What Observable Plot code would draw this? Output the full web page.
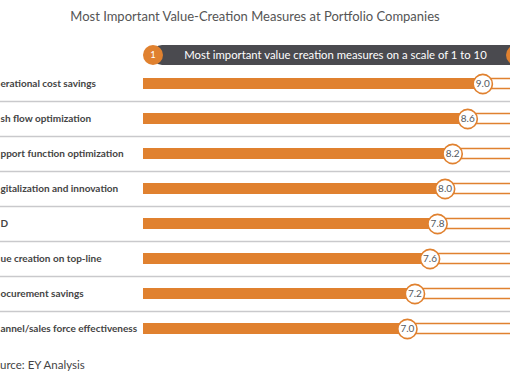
<!DOCTYPE html>
<html>
<head>
<meta charset="utf-8">
<script src="https://cdn.jsdelivr.net/npm/d3@7"></script>
<script src="https://cdn.jsdelivr.net/npm/@observablehq/plot@0.6"></script>
<style>
  html, body { margin: 0; padding: 0; background: #fff; width: 510px; height: 382px; overflow: hidden; }
  #wrap { position: relative; width: 510px; height: 382px; overflow: hidden; font-family: Lato, "Open Sans", sans-serif; }
  #title { height: 38px; line-height: 32px; text-align: center; font-size: 13px; color: #555; }
  #header { position: absolute; left: 143px; top: 45px; width: 380px; height: 20px; }
  #header .bar { position: absolute; left: 9px; right: 0; top: 0; height: 20px; background: #4a4a4f; border-radius: 10px; }
  #header .c { position: absolute; top: 0; width: 20px; height: 20px; border-radius: 10px; background: #e0812f; color: #fff; font-size: 9.5px; line-height: 20px; text-align: center; }
  #header .txt { position: absolute; left: 20px; width: 345px; top: 0; height: 20px; line-height: 20px; text-align: center; color: #fff; font-size: 11.3px; }
  #source { position: absolute; left: 0; top: 358px; font-size: 11.5px; color: #444; white-space: nowrap; }
  #chart svg { display: block; }
</style>
</head>
<body>
<div id="wrap">
  <div id="title"></div>
  <div id="chart"></div>
  <div id="header">
    <div class="bar"></div>
    <div class="c" id="c1" style="left:0"></div>
    <div class="txt" id="htxt"></div>
    <div class="c" id="c2" style="left:363px"></div>
  </div>
  <div id="source"></div>
</div>
<script>
// Texts as visible in the (left-cropped) reference
const titleText = "Most Important Value-Creation Measures at Portfolio Companies";
const headerText = "Most important value creation measures on a scale of 1 to 10";
const scaleStart = "1";
const sourceText = "urce: EY Analysis";
const categories = [
  "erational cost savings",
  "sh flow optimization",
  "pport function optimization",
  "gitalization and innovation",
  "D",
  "ue creation on top-line",
  "ocurement savings",
  "annel/sales force effectiveness"
];
const values = [9.0, 8.6, 8.2, 8.0, 7.8, 7.6, 7.2, 7.0];
const maxScore = 10;

document.getElementById("title").textContent = titleText;
document.getElementById("htxt").textContent = headerText;
document.getElementById("c1").textContent = scaleStart;
document.getElementById("source").textContent = sourceText;

const data = categories.map((c, i) => ({category: c, value: values[i]}));
const orange = "#e0812f";

const plot = Plot.plot({
  width: 510,
  height: 308,
  marginTop: 28,
  marginBottom: 0,
  marginLeft: 0,
  marginRight: 0,
  style: {fontFamily: "Lato, 'Open Sans', sans-serif", background: "transparent"},
  x: {domain: [0, maxScore], range: [143, 520], axis: null},
  y: {domain: categories, padding: 0, axis: null},
  marks: [
    Plot.ruleY(categories.slice(0, -1), {y: d => d, dy: 17.5, stroke: "#c9c9cc", strokeWidth: 1.5}),
    Plot.barX(data, {y: "category", x1: "value", x2: () => maxScore, fill: "white", stroke: orange, strokeWidth: 1.5, insetTop: 12.5, insetBottom: 12.5}),
    Plot.barX(data, {y: "category", x1: () => 0, x2: "value", fill: orange, insetTop: 12, insetBottom: 12}),
    Plot.dot(data, {y: "category", x: "value", r: 9.6, fill: "white", stroke: orange, strokeWidth: 1.6}),
    Plot.text(data, {y: "category", x: "value", text: d => d.value.toFixed(1), fill: "#555a60", fontSize: 10}),
    Plot.text(data, {y: "category", text: "category", frameAnchor: "left", textAnchor: "start", dx: 0, fill: "#444", fontSize: 10, fontWeight: "bold"})
  ]
});
document.getElementById("chart").appendChild(plot);
</script>
</body>
</html>
